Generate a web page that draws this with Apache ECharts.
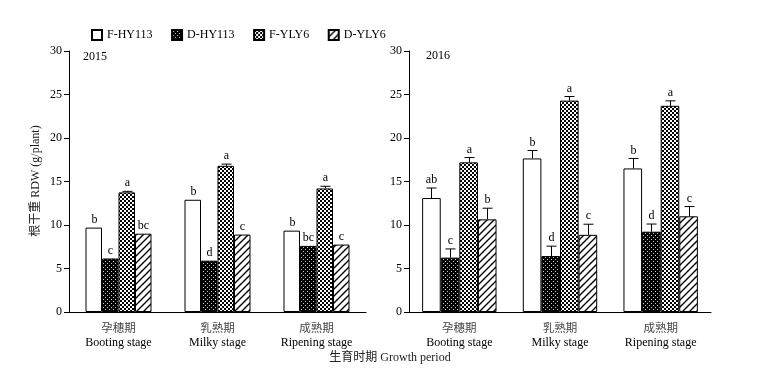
<!DOCTYPE html>
<html><head><meta charset="utf-8">
<script src="https://cdn.jsdelivr.net/npm/echarts@6/dist/echarts.min.js"></script>
<style>html,body{margin:0;padding:0;background:#fff}#c{width:766px;height:378px}</style>
</head><body><div id="c"></div>
<script>
// ---- data ----
const categoriesEN = ['Booting stage', 'Milky stage', 'Ripening stage'];
const categoriesCN = ['孕穗期', '乳熟期', '成熟期'];
const seriesNames = ['F-HY113', 'D-HY113', 'F-YLY6', 'D-YLY6'];
const yTickValues = [0, 5, 10, 15, 20, 25, 30];
const yearLabels = ['2015', '2016'];

// 2015
const fHY113_2015 = [9.7, 12.9, 9.35];
const dHY113_2015 = [6.15, 5.9, 7.6];
const fYLY6_2015 = [13.75, 16.8, 14.2];
const dYLY6_2015 = [9.0, 8.9, 7.75];
const errFHY113_2015 = [0, 0, 0];
const errDHY113_2015 = [0, 0, 0];
const errFYLY6_2015 = [0.12, 0.2, 0.25];
const errDYLY6_2015 = [0, 0, 0];
const letFHY113_2015 = ['b', 'b', 'b'];
const letDHY113_2015 = ['c', 'd', 'bc'];
const letFYLY6_2015 = ['a', 'a', 'a'];
const letDYLY6_2015 = ['bc', 'c', 'c'];

// 2016
const fHY113_2016 = [13.1, 17.65, 16.5];
const dHY113_2016 = [6.25, 6.43, 9.23];
const fYLY6_2016 = [17.2, 24.3, 23.7];
const dYLY6_2016 = [10.65, 8.87, 11.0];
const errFHY113_2016 = [1.15, 0.92, 1.15];
const errDHY113_2016 = [1.0, 1.14, 0.88];
const errFYLY6_2016 = [0.55, 0.47, 0.57];
const errDYLY6_2016 = [1.28, 1.22, 1.12];
const letFHY113_2016 = ['ab', 'b', 'b'];
const letDHY113_2016 = ['c', 'd', 'd'];
const letFYLY6_2016 = ['a', 'a', 'a'];
const letDYLY6_2016 = ['b', 'c', 'c'];

// ---- patterns ----
function makePattern(type) {
  if (type === 'white') return '#ffffff';
  const c = document.createElement('canvas');
  const ctx = c.getContext('2d');
  if (type === 'dots') {
    c.width = 4; c.height = 4;
    ctx.fillStyle = '#000'; ctx.fillRect(0, 0, 4, 4);
    ctx.fillStyle = '#c8c8c8'; ctx.fillRect(1, 1, 1, 1); ctx.fillRect(3, 3, 1, 1);
  } else if (type === 'check') {
    c.width = 4; c.height = 4;
    ctx.fillStyle = '#fff'; ctx.fillRect(0, 0, 4, 4);
    ctx.fillStyle = '#000'; ctx.fillRect(0, 0, 2, 2); ctx.fillRect(2, 2, 2, 2);
  } else if (type === 'hatch') {
    const s = 7;
    c.width = s; c.height = s;
    ctx.fillStyle = '#fff'; ctx.fillRect(0, 0, s, s);
    ctx.strokeStyle = '#000'; ctx.lineWidth = 1.4;
    ctx.beginPath();
    ctx.moveTo(-1, s + 1); ctx.lineTo(s + 1, -1);
    ctx.moveTo(-1, 1); ctx.lineTo(1, -1);
    ctx.moveTo(s - 1, s + 1); ctx.lineTo(s + 1, s - 1);
    ctx.stroke();
  }
  return { image: c, repeat: 'repeat' };
}
const fills = [makePattern('white'), makePattern('dots'), makePattern('check'), makePattern('hatch')];

const panels = [
  { vals: [fHY113_2015, dHY113_2015, fYLY6_2015, dYLY6_2015],
    errs: [errFHY113_2015, errDHY113_2015, errFYLY6_2015, errDYLY6_2015],
    lets: [letFHY113_2015, letDHY113_2015, letFYLY6_2015, letDYLY6_2015],
    bw: 16.5 },
  { vals: [fHY113_2016, dHY113_2016, fYLY6_2016, dYLY6_2016],
    errs: [errFHY113_2016, errDHY113_2016, errFYLY6_2016, errDYLY6_2016],
    lets: [letFHY113_2016, letDHY113_2016, letFYLY6_2016, letDYLY6_2016],
    bw: 18.6 }
];

const SERIF = '"Liberation Serif", "Times New Roman", serif';
const CJK = '"Noto Sans CJK SC", sans-serif';

function makeRender(offset, letters) {
  return function (params, api) {
    const i = api.value(0), v = api.value(1), e = api.value(2);
    const base = api.coord([i, v]);
    const top = api.coord([i, v + e]);
    const x = Math.round(base[0] + offset) + 0.5;
    const children = [];
    if (e > 0) {
      children.push({ type: 'line', shape: { x1: x, y1: base[1], x2: x, y2: top[1] }, style: { stroke: '#000', lineWidth: 1 } });
      children.push({ type: 'line', shape: { x1: x - 5, y1: top[1], x2: x + 5, y2: top[1] }, style: { stroke: '#000', lineWidth: 1 } });
    }
    children.push({ type: 'text', x: x, y: top[1] - 2,
      style: { text: letters[params.dataIndex], align: 'center', verticalAlign: 'bottom', font: '12px ' + SERIF, fill: '#000' } });
    return { type: 'group', children: children };
  };
}

const grids = [
  { left: 69, top: 51, width: 297, height: 261 },
  { left: 409, top: 51, width: 302, height: 261 }
];

const xAxes = grids.map((g, p) => ({
  type: 'category', gridIndex: p, data: categoriesEN,
  axisLine: { lineStyle: { color: '#000', width: 1 } },
  axisTick: { inside: true, length: 5, interval: 0, lineStyle: { color: '#000' } },
  axisLabel: {
    margin: 8, interval: 0,
    formatter: (val, idx) => '{cn|' + categoriesCN[idx] + '}\n{en|' + val + '}',
    rich: {
      cn: { fontFamily: CJK, fontSize: 11.5, color: '#444', lineHeight: 15 },
      en: { fontFamily: SERIF, fontSize: 12, color: '#000', lineHeight: 15 }
    }
  }
}));

const yAxes = grids.map((g, p) => ({
  type: 'value', gridIndex: p, min: yTickValues[0], max: yTickValues[yTickValues.length - 1], interval: 5,
  axisLine: { show: true, lineStyle: { color: '#000', width: 1 } },
  axisTick: { show: true, length: 5, lineStyle: { color: '#000' } },
  splitLine: { show: false },
  axisLabel: { margin: 7, fontFamily: SERIF, fontSize: 12, color: '#000' }
}));

const series = [];
panels.forEach((pn, p) => {
  pn.vals.forEach((vals, s) => {
    series.push({
      type: 'bar', name: seriesNames[s], xAxisIndex: p, yAxisIndex: p,
      data: vals, barWidth: pn.bw, barGap: '0%', silent: true,
      itemStyle: { color: fills[s], borderColor: '#000', borderWidth: 1 },
      animation: false
    });
  });
  pn.vals.forEach((vals, s) => {
    series.push({
      type: 'custom', name: 'err' + p + s, xAxisIndex: p, yAxisIndex: p, silent: true,
      data: vals.map((v, i) => [i, v, pn.errs[s][i]]),
      renderItem: makeRender((s - 1.5) * pn.bw, pn.lets[s]),
      z: 5, animation: false
    });
  });
});

const chart = echarts.init(document.getElementById('c'), null, { renderer: 'canvas' });
chart.setOption({
  animation: false,
  backgroundColor: '#fff',
  legend: {
    data: seriesNames, left: 86, top: 24, icon: 'rect', itemWidth: 10, itemHeight: 10, itemGap: 18.5,
    selectedMode: false,
    textStyle: { fontFamily: SERIF, fontSize: 12, color: '#000' }
  },
  grid: grids,
  xAxis: xAxes,
  yAxis: yAxes,
  series: series,
  graphic: [
    { type: 'text', left: 83, top: 51, style: { text: yearLabels[0], font: '12px ' + SERIF, fill: '#000' } },
    { type: 'text', left: 426, top: 50, style: { text: yearLabels[1], font: '12px ' + SERIF, fill: '#000' } },
    { type: 'text', x: 36, y: 181, rotation: Math.PI / 2,
      style: { text: '根干重 RDW (g/plant)', align: 'center', verticalAlign: 'middle', font: '12px ' + SERIF + ', ' + CJK, fill: '#222' } },
    { type: 'text', x: 390, y: 358,
      style: { text: '生育时期 Growth period', align: 'center', verticalAlign: 'middle', font: '12px ' + SERIF + ', ' + CJK, fill: '#222' } }
  ]
});
</script>
</body></html>
